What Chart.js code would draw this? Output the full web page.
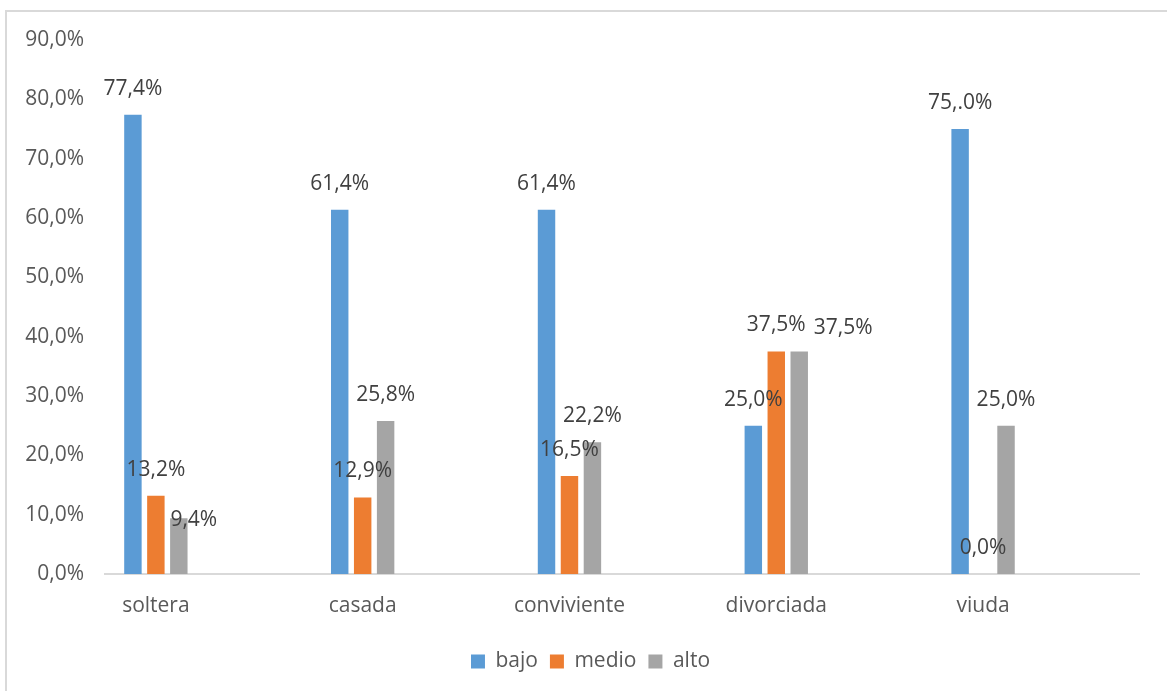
<!DOCTYPE html>
<html>
<head>
<meta charset="utf-8">
<script src="https://cdn.jsdelivr.net/npm/chart.js@4.4.1/dist/chart.umd.min.js"></script>
<style>
  html, body { margin: 0; padding: 0; background: #fff; }
  #wrap { position: relative; width: 1167px; height: 691px; overflow: hidden; }
  #frame { position: absolute; left: 5px; top: 10px; width: 1200px; height: 720px;
           border-left: 2px solid #d9d9d9; border-top: 2px solid #d9d9d9; }
  #chart { position: absolute; left: 0; top: 0; }
</style>
</head>
<body>
<div id="wrap">
  <div id="frame"></div>
  <canvas id="chart" width="1167" height="691"></canvas>
</div>
<script>
var categories = ['soltera', 'casada', 'conviviente', 'divorciada', 'viuda'];
var seriesNames = ['bajo', 'medio', 'alto'];
var bajo  = [77.4, 61.4, 61.4, 25.0, 75.0];
var medio = [13.2, 12.9, 16.5, 37.5, 0.0];
var alto  = [9.4, 25.8, 22.2, 37.5, 25.0];
// label texts as printed on the original (incl. the "75,.0%" typo)
var bajoText  = ['77,4%', '61,4%', '61,4%', '25,0%', '75,.0%'];
var medioText = ['13,2%', '12,9%', '16,5%', '37,5%', '0,0%'];
var altoText  = ['9,4%', '25,8%', '22,2%', '37,5%', '25,0%'];
var yTicks = [0, 10, 20, 30, 40, 50, 60, 70, 80, 90];

var colors = ['#5b9bd5', '#ed7d31', '#a5a5a5'];
var FONT = "'Open Sans', sans-serif";
// label nudges (dataset, index) -> [dx, dy], matching the original placement
var nudge = { '2_0': [15, 28], '2_3': [44, 3] };

function points(arr){
	var out = [];
	for (var i = 0; i < arr.length; i++) out.push({x: i, y: arr[i]});
	return out;
}
function pct(v){ return v.toFixed(1).replace('.', ',') + '%'; }

var texts = [bajoText, medioText, altoText];
var values = [bajo, medio, alto];
var datasets = [];
for (var s = 0; s < seriesNames.length; s++) {
	datasets.push({
		label: seriesNames[s],
		data: points(values[s]),
		backgroundColor: colors[s],
		borderWidth: 0,
		categoryPercentage: 0.333,
		barPercentage: 0.76
	});
}

var valueLabels = {
	id: 'valueLabels',
	afterLayout: function(chart){
		// excel centres the legend a bit further right
		chart.legend.left += 11;
		chart.legend.right += 11;
	},
	afterDatasetsDraw: function(chart){
		var ctx = chart.ctx;
		ctx.save();
		ctx.font = '21px ' + FONT;
		ctx.fillStyle = '#404040';
		ctx.textAlign = 'center';
		ctx.textBaseline = 'middle';
		chart.data.datasets.forEach(function(ds, di){
			var meta = chart.getDatasetMeta(di);
			meta.data.forEach(function(bar, i){
				var n = nudge[di + '_' + i] || [0, 0];
				ctx.fillText(texts[di][i], bar.x + n[0], bar.y - 26 + n[1]);
			});
		});
		ctx.restore();
	}
};

new Chart(document.getElementById('chart'), {
	type: 'bar',
	data: { datasets: datasets },
	options: {
		responsive: false,
		animation: false,
		events: [],
		layout: { padding: { top: 40, right: 28, left: 20, bottom: 9 } },
		scales: {
			x: {
				type: 'linear',
				offset: false,
				min: -0.246,
				max: 4.754,
				grid: { display: false, drawTicks: false, offset: false },
				border: { display: true, color: '#d9d9d9', width: 2 },
				afterBuildTicks: function(scale){
					scale.ticks = categories.map(function(c, i){ return {value: i}; });
				},
				afterFit: function(scale){ scale.height = 65; },
				ticks: {
					padding: 19,
					color: '#595959',
					font: { family: FONT, size: 21 },
					callback: function(v){ return categories[v]; }
				}
			},
			y: {
				min: 0,
				max: 90,
				grid: { display: false, drawTicks: false },
				border: { display: false },
				afterBuildTicks: function(scale){
					scale.ticks = yTicks.map(function(v){ return {value: v}; });
				},
				afterFit: function(scale){ scale.width = 85; },
				ticks: {
					padding: 21,
					color: '#595959',
					font: { family: FONT, size: 21 },
					callback: function(v){ return pct(v); }
				}
			}
		},
		plugins: {
			legend: {
				position: 'bottom',
				labels: {
					boxWidth: 14,
					boxHeight: 14,
					padding: 12,
					color: '#595959',
					font: { family: FONT, size: 21 }
				}
			},
			tooltip: { enabled: false }
		}
	},
	plugins: [valueLabels]
});
</script>
</body>
</html>
